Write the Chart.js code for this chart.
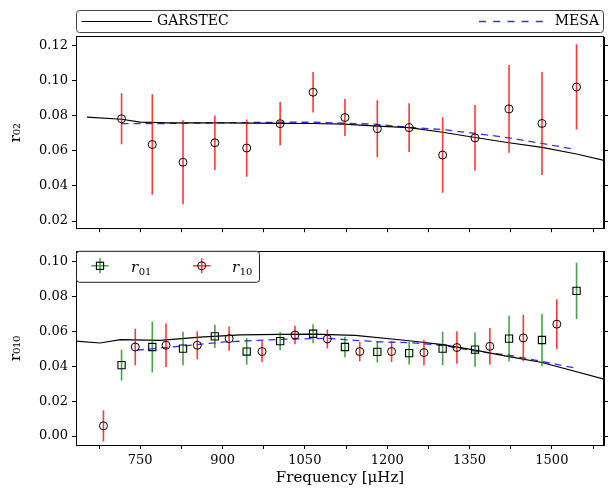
<!DOCTYPE html>
<html>
<head>
<meta charset="utf-8">
<script src="https://cdn.jsdelivr.net/npm/chart.js@4.4.1/dist/chart.umd.min.js"></script>
<style>
  body { margin: 0; background: #fff; }
  #wrap { position: relative; width: 608px; height: 488px; }
  .box { position: absolute; left: 0; width: 608px; }
</style>
</head>
<body>
<div id="wrap">
  <div class="box" style="top:0;height:240px"><canvas id="chartTop"></canvas></div>
  <div class="box" style="top:240px;height:248px"><canvas id="chartBottom"></canvas></div>
</div>
<script>
// ---- data ----
const xMin = 633, xMax = 1595;
const xTicks = [675, 750, 825, 900, 975, 1050, 1125, 1200, 1275, 1350, 1425, 1500, 1575];
const xLabels = [750, 900, 1050, 1200, 1350, 1500];
const r02Ticks = [0.02, 0.04, 0.06, 0.08, 0.10, 0.12];
const r010Ticks = [0.00, 0.02, 0.04, 0.06, 0.08, 0.10];
const r02Range = [0.0159, 0.1249];
const r010Range = [-0.0051, 0.1057];

// r02 observed
const r02Freq = [716, 772, 828, 886, 944, 1005, 1065, 1123, 1182, 1240, 1301, 1360, 1422, 1482, 1545];
const r02Val = [0.0783, 0.0636, 0.0535, 0.0646, 0.0616, 0.0755, 0.0934, 0.0790, 0.0726, 0.0732, 0.0576, 0.0674, 0.0839, 0.0756, 0.0964];
const r02Err = [0.0146, 0.0287, 0.0240, 0.0155, 0.0163, 0.0124, 0.0115, 0.0105, 0.0162, 0.0139, 0.0215, 0.0187, 0.0250, 0.0294, 0.0243];

// r01 observed
const r01Freq = [716, 772, 828, 886, 944, 1005, 1065, 1123, 1182, 1240, 1301, 1360, 1422, 1482, 1545];
const r01Val = [0.0407, 0.0511, 0.0502, 0.0572, 0.0485, 0.0545, 0.0587, 0.0511, 0.0483, 0.0476, 0.0502, 0.0496, 0.0559, 0.0551, 0.0833];
const r01Err = [0.0088, 0.0146, 0.0096, 0.0067, 0.0076, 0.0053, 0.0055, 0.0059, 0.0061, 0.0065, 0.0096, 0.0098, 0.0131, 0.0150, 0.0161];

// r10 observed
const r10Freq = [683, 741, 797, 854, 912, 972, 1032, 1091, 1150, 1208, 1267, 1327, 1387, 1448, 1509];
const r10Val = [0.0059, 0.0511, 0.0521, 0.0521, 0.0559, 0.0485, 0.0580, 0.0557, 0.0485, 0.0485, 0.0479, 0.0508, 0.0515, 0.0563, 0.0642];
const r10Err = [0.0090, 0.0105, 0.0125, 0.0080, 0.0070, 0.0060, 0.0053, 0.0055, 0.0055, 0.0060, 0.0072, 0.0093, 0.0105, 0.0133, 0.0143];

// model curves
const garTopF = [653, 716, 750, 800, 900, 1005, 1065, 1120, 1182, 1240, 1301, 1360, 1422, 1482, 1545, 1600];
const garTopV = [0.0792, 0.0780, 0.0764, 0.0760, 0.0760, 0.0757, 0.0756, 0.0752, 0.0741, 0.0732, 0.0706, 0.0676, 0.0646, 0.0620, 0.0582, 0.0542];
const mesaTopF = [716, 800, 900, 1005, 1065, 1123, 1182, 1240, 1301, 1360, 1422, 1482, 1540];
const mesaTopV = [0.0755, 0.0756, 0.0760, 0.0763, 0.0763, 0.0758, 0.0751, 0.0734, 0.0721, 0.0700, 0.0674, 0.0642, 0.0610];

const garBotF = [633, 677, 714, 786, 859, 932, 1005, 1065, 1142, 1240, 1301, 1360, 1422, 1482, 1600];
const garBotV = [0.0545, 0.0534, 0.0553, 0.0549, 0.0568, 0.0580, 0.0583, 0.0585, 0.0578, 0.0547, 0.0525, 0.0493, 0.0456, 0.0422, 0.0322];
const mesaBotF = [744, 828, 903, 1005, 1091, 1142, 1182, 1240, 1301, 1360, 1422, 1482, 1540];
const mesaBotV = [0.0493, 0.0517, 0.0540, 0.0555, 0.0561, 0.0549, 0.0541, 0.0536, 0.0521, 0.0487, 0.0464, 0.0428, 0.0392];

const garColor = '#000000';
const mesaColor = '#3030ff';
const red = 'rgba(255,0,0,0.78)';
const green = 'rgba(0,128,0,0.72)';

Chart.defaults.font.family = '"DejaVu Serif", serif';
Chart.defaults.font.size = 13;
Chart.defaults.color = '#000';

function zip(xs, ys) {
  return xs.map((x, i) => ({x: x, y: ys[i]}));
}
// floating bars used as vertical error bars
function errBars(xs, ys, es) {
  return xs.map((x, i) => ({x: x, y: [ys[i] - es[i], ys[i] + es[i]]}));
}

function xScale(showLabels) {
  return {
    type: 'linear', min: xMin, max: xMax, offset: false,
    afterBuildTicks: s => { s.ticks = xTicks.map(v => ({value: v})); },
    afterFit: s => { s.height = showLabels ? 43 : 9; },
    grid: {drawOnChartArea: false, tickLength: 4, tickColor: '#000', offset: false},
    border: {color: '#000', width: 1},
    ticks: {display: showLabels, autoSkip: false, maxRotation: 0, padding: 4,
      callback: v => xLabels.includes(v) ? String(v) : ''},
    title: {display: showLabels, text: 'Frequency [μHz]', font: {size: 15}, padding: {top: 0, bottom: 1}}
  };
}

function yScales(range, ticks, label) {
  return {
    y: {
      type: 'linear', position: 'left', min: range[0], max: range[1],
      afterBuildTicks: s => { s.ticks = ticks.map(v => ({value: v})); },
      afterFit: s => { s.width = 76; },
      grid: {drawOnChartArea: false, tickLength: 4, tickColor: '#000'},
      border: {color: '#000', width: 1},
      ticks: {padding: 4, callback: v => v.toFixed(2)},
      title: {display: true, text: label, font: {size: 15}, padding: {top: 7, bottom: 0}}
    },
    y2: {
      type: 'linear', position: 'right', min: range[0], max: range[1],
      afterBuildTicks: s => { s.ticks = ticks.map(v => ({value: v})); },
      afterFit: s => { s.width = 4; },
      grid: {drawOnChartArea: false, tickLength: 4, tickColor: '#000'},
      border: {color: '#000', width: 1},
      ticks: {display: false}
    }
  };
}

function roundBox(ctx, x, y, w, h, r) {
  ctx.beginPath();
  ctx.moveTo(x + r, y);
  ctx.arcTo(x + w, y, x + w, y + h, r);
  ctx.arcTo(x + w, y + h, x, y + h, r);
  ctx.arcTo(x, y + h, x, y, r);
  ctx.arcTo(x, y, x + w, y, r);
  ctx.closePath();
}

// full box round the plot area
const framePlugin = {
  id: 'frame',
  afterDraw(chart) {
    const {ctx, chartArea: a} = chart;
    ctx.save();
    ctx.strokeStyle = '#000';
    ctx.lineWidth = 1;
    ctx.strokeRect(Math.round(a.left) + 0.5, Math.round(a.top) - 0.5, Math.round(a.right - a.left) - 1, Math.round(a.bottom - a.top) + 1);
    ctx.restore();
  }
};

// legend above top panel, "expand" style
const topLegend = {
  id: 'topLegend',
  afterDraw(chart) {
    const {ctx, chartArea: a} = chart;
    const y0 = 10.5, h = 22, ym = y0 + h / 2;
    ctx.save();
    roundBox(ctx, a.left + 0.5, y0, a.right - a.left - 1, h, 3);
    ctx.fillStyle = '#fff';
    ctx.fill();
    ctx.strokeStyle = '#444';
    ctx.lineWidth = 1;
    ctx.stroke();

    ctx.beginPath();
    ctx.moveTo(a.left + 5.5, ym);
    ctx.lineTo(a.left + 76, ym);
    ctx.strokeStyle = garColor;
    ctx.lineWidth = 1.2;
    ctx.stroke();

    ctx.beginPath();
    ctx.setLineDash([7, 7.2]);
    ctx.moveTo(a.right - 125, ym);
    ctx.lineTo(a.right - 60, ym);
    ctx.strokeStyle = mesaColor;
    ctx.lineWidth = 1.3;
    ctx.stroke();
    ctx.setLineDash([]);

    ctx.font = '14px "DejaVu Serif"';
    ctx.fillStyle = '#000';
    ctx.textBaseline = 'middle';
    ctx.textAlign = 'left';
    ctx.fillText('GARSTEC', a.left + 81, ym);
    ctx.textAlign = 'right';
    ctx.fillText('MESA', a.right - 5, ym);
    ctx.restore();
  }
};

function rLabel(ctx, x, y, sub) {
  ctx.textAlign = 'left';
  ctx.textBaseline = 'alphabetic';
  ctx.font = 'italic 15px "DejaVu Serif"';
  ctx.fillText('r', x, y);
  const w = ctx.measureText('r').width;
  ctx.font = '10px "DejaVu Serif"';
  ctx.fillText(sub, x + w + 0.5, y + 3);
}

// legend inside bottom panel, upper left
const bottomLegend = {
  id: 'bottomLegend',
  afterDraw(chart) {
    const {ctx, chartArea: a} = chart;
    const x0 = a.left + 0.5, y0 = a.top - 0.5, w = 183, h = 31;
    const ym = y0 + 14.5;
    ctx.save();
    roundBox(ctx, x0, y0, w, h, 3);
    ctx.fillStyle = '#fff';
    ctx.fill();
    ctx.strokeStyle = '#222';
    ctx.lineWidth = 1;
    ctx.stroke();

    // r01 marker
    let cx = a.left + 24;
    ctx.lineWidth = 1.6;
    ctx.strokeStyle = green;
    ctx.beginPath();
    ctx.moveTo(cx - 8.7, ym); ctx.lineTo(cx + 8.7, ym);
    ctx.moveTo(cx, ym - 7.5); ctx.lineTo(cx, ym + 7.5);
    ctx.stroke();
    ctx.strokeStyle = '#000';
    ctx.lineWidth = 1.1;
    ctx.strokeRect(cx - 3.6, ym - 3.6, 7.2, 7.2);
    ctx.fillStyle = '#000';
    rLabel(ctx, a.left + 55, ym + 6, '01');

    // r10 marker
    cx = a.left + 125.7;
    ctx.lineWidth = 1.6;
    ctx.strokeStyle = red;
    ctx.beginPath();
    ctx.moveTo(cx - 8.7, ym); ctx.lineTo(cx + 8.7, ym);
    ctx.moveTo(cx, ym - 7.5); ctx.lineTo(cx, ym + 7.5);
    ctx.stroke();
    ctx.strokeStyle = '#000';
    ctx.lineWidth = 1;
    ctx.beginPath();
    ctx.arc(cx, ym, 4, 0, Math.PI * 2);
    ctx.stroke();
    rLabel(ctx, a.left + 156, ym + 6, '10');
    ctx.restore();
  }
};

const baseOptions = {
  responsive: true,
  maintainAspectRatio: false,
  animation: false,
  events: [],
  plugins: {legend: {display: false}, tooltip: {enabled: false}}
};

// top panel: r02
new Chart(document.getElementById('chartTop'), {
  type: 'scatter',
  data: {
    datasets: [
      {type: 'line', label: 'GARSTEC', data: zip(garTopF, garTopV), borderColor: garColor, borderWidth: 1.2, pointRadius: 0, tension: 0, fill: false, order: 3},
      {type: 'line', label: 'MESA', data: zip(mesaTopF, mesaTopV), borderColor: mesaColor, borderDash: [7, 5], borderWidth: 1.3, pointRadius: 0, tension: 0, fill: false, order: 3},
      {type: 'bar', data: errBars(r02Freq, r02Val, r02Err), backgroundColor: red, borderWidth: 0, grouped: false, maxBarThickness: 1.6, order: 2},
      {type: 'scatter', data: zip(r02Freq, r02Val), pointStyle: 'circle', pointRadius: 4, borderColor: '#000', backgroundColor: 'rgba(0,0,0,0)', borderWidth: 1, order: 1}
    ]
  },
  options: Object.assign({}, baseOptions, {
    layout: {autoPadding: false, padding: {top: 37, left: 0, right: 0, bottom: 0}},
    scales: Object.assign({x: xScale(false)}, yScales(r02Range, r02Ticks, 'r₀₂'))
  }),
  plugins: [framePlugin, topLegend]
});

// bottom panel: r01 / r10
new Chart(document.getElementById('chartBottom'), {
  type: 'scatter',
  data: {
    datasets: [
      {type: 'line', label: 'GARSTEC', data: zip(garBotF, garBotV), borderColor: garColor, borderWidth: 1.2, pointRadius: 0, tension: 0, fill: false, order: 3},
      {type: 'line', label: 'MESA', data: zip(mesaBotF, mesaBotV), borderColor: mesaColor, borderDash: [7, 5], borderWidth: 1.3, pointRadius: 0, tension: 0, fill: false, order: 3},
      {type: 'bar', data: errBars(r01Freq, r01Val, r01Err), backgroundColor: green, borderWidth: 0, grouped: false, maxBarThickness: 1.6, order: 2},
      {type: 'bar', data: errBars(r10Freq, r10Val, r10Err), backgroundColor: red, borderWidth: 0, grouped: false, maxBarThickness: 1.6, order: 2},
      {type: 'scatter', label: 'r01', data: zip(r01Freq, r01Val), pointStyle: 'rect', pointRadius: 5.1, borderColor: '#000', backgroundColor: 'rgba(0,0,0,0)', borderWidth: 1.1, order: 1},
      {type: 'scatter', label: 'r10', data: zip(r10Freq, r10Val), pointStyle: 'circle', pointRadius: 4, borderColor: '#000', backgroundColor: 'rgba(0,0,0,0)', borderWidth: 1, order: 1}
    ]
  },
  options: Object.assign({}, baseOptions, {
    layout: {autoPadding: false, padding: {top: 10, left: 0, right: 0, bottom: 0}},
    scales: Object.assign({x: xScale(true)}, yScales(r010Range, r010Ticks, 'r₀₁₀'))
  }),
  plugins: [framePlugin, bottomLegend]
});
</script>
</body>
</html>
